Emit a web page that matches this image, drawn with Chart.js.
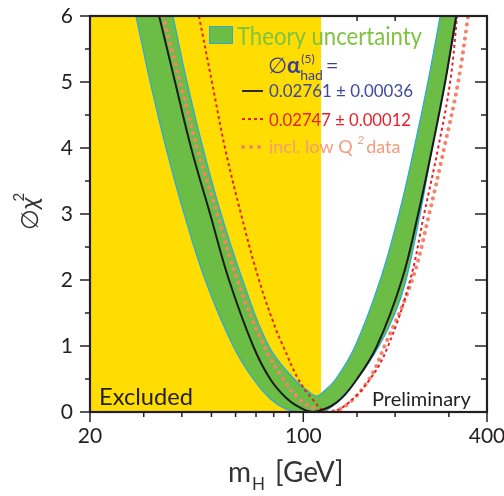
<!DOCTYPE html>
<html>
<head>
<meta charset="utf-8">
<script src="https://cdn.jsdelivr.net/npm/chart.js@4.4.1/dist/chart.umd.min.js"></script>
<style>
  html, body { margin: 0; padding: 0; background: #fff; }
  #wrap { width: 504px; height: 496px; }
</style>
</head>
<body>
<div id="wrap"><canvas id="chart" width="504" height="496"></canvas></div>
<script>
// Delta chi^2 of the electroweak fit as a function of the Higgs mass

// central fit, dalpha_had = 0.02761 +- 0.00036
const fitMass = [33.7, 38.0, 42.9, 49.5, 57.1, 68.5, 77.9, 88.5, 99.1, 108.5, 129.1, 150.1, 174.4, 210.4, 237.9, 264.5, 291.7, 317.0];
const fitChi2 = [6, 5, 4, 3, 2, 1, 0.5, 0.2, 0.05, 0, 0.15, 0.5, 1, 2, 3, 4, 5, 6];

// fit with dalpha_had = 0.02747 +- 0.00012
const altMass = [45.5, 50.2, 55.4, 62.5, 71.6, 81.5, 85.9, 96.2, 106.9, 119.7, 137.1, 165.6, 189.7, 224.0, 248.9, 276.7, 302.9, 319.4];
const altChi2 = [6, 5, 4, 3, 2, 1.24, 1, 0.5, 0.2, 0, 0.1, 0.5, 1, 2, 3, 4, 5, 6];

// fit including low Q^2 data
const lowQ2Mass = [34.7, 39.5, 44.9, 52.2, 60.7, 74.4, 85.9, 96.9, 108.5, 120.6, 138.2, 164.4, 184.7, 227.4, 258.5, 289.5, 321.8, 347.0];
const lowQ2Chi2 = [6, 5, 4, 3, 2, 1, 0.5, 0.2, 0.05, 0, 0.1, 0.5, 1, 2, 3, 4, 5, 6];

// theory uncertainty band: lower and upper envelope
const bandLowMass = [28.3, 31.5, 35.5, 40.7, 47.7, 58.9, 68.5, 77.9, 87.2, 97.6, 116.1, 132.0, 150.1, 177.2, 200.0, 217.3, 241.5, 264.5, 291.7, 319.4];
const bandLowChi2 = [6, 5, 4, 3, 2, 1, 0.5, 0.2, 0.05, 0, 0, 0.2, 0.5, 1, 1.5, 2, 3, 4, 5, 6];
const bandHighMass = [37.4, 41.6, 46.9, 53.8, 63.3, 77.1, 93.3, 104.8, 111.0, 115.9, 127.8, 147.9, 178.6, 205.7, 230.8, 256.0, 280.9];
const bandHighChi2 = [6, 5, 4, 3, 2, 1, 0.5, 0.3, 0.24, 0.3, 0.5, 1, 2, 3, 4, 5, 6];

const EXCLUDED_LIMIT = 114.4;
const X_TICK_LABELS = [20, 100, 400];

const FONT = "Lato, 'Open Sans', sans-serif";
const INK = '#231f20';
const BAND_GREEN = '#6cbd45';
const BAND_EDGE = '#29a9e0';

const toPoints = (xs, ys) => xs.map((x, i) => ({ x, y: ys[i] }));

function segment(ctx, x1, y1, x2, y2) {
  ctx.beginPath();
  ctx.moveTo(x1, y1);
  ctx.lineTo(x2, y2);
  ctx.stroke();
}

// writes consecutive [text, font] pieces, returns the end x
function drawPieces(ctx, x, y, pieces, color) {
  ctx.fillStyle = color;
  let cx = x;
  pieces.forEach(([text, font]) => {
    ctx.font = font;
    ctx.fillText(text, cx, y);
    cx += ctx.measureText(text).width;
  });
  return cx;
}

const decorations = {
  id: 'decorations',
  beforeDatasetsDraw(chart) {
    const { ctx, chartArea: a, scales: { x, y } } = chart;
    ctx.save();
    ctx.strokeStyle = INK;
    ctx.lineWidth = 1.5;
    // inward ticks on the top and right edges
    x.ticks.forEach(t => {
      const px = x.getPixelForValue(t.value);
      const len = X_TICK_LABELS.includes(t.value) ? 10 : 5;
      segment(ctx, px, a.top, px, a.top + len);
    });
    y.ticks.forEach(t => {
      const py = y.getPixelForValue(t.value);
      const len = Number.isInteger(t.value) ? 12 : 6;
      segment(ctx, a.right - len, py, a.right, py);
    });
    // excluded mass range
    const xl = x.getPixelForValue(EXCLUDED_LIMIT);
    ctx.fillStyle = '#ffdd00';
    ctx.fillRect(a.left, a.top, xl - a.left, a.bottom - a.top);

    // green band between the two envelope lines
    const low = chart.getDatasetMeta(3).dataset;
    const high = chart.getDatasetMeta(4).dataset;
    low.updateControlPoints(a, 'x');
    high.updateControlPoints(a, 'x');
    ctx.beginPath();
    ctx.rect(a.left, a.top, a.right - a.left, a.bottom - a.top);
    ctx.clip();
    ctx.beginPath();
    low.path(ctx);
    const hp = high.points;
    ctx.lineTo(hp[hp.length - 1].x, hp[hp.length - 1].y);
    high.pathSegment(ctx, high.segments[0], { move: false, reverse: true });
    ctx.closePath();
    ctx.fillStyle = BAND_GREEN;
    ctx.fill();
    ctx.restore();
  },
  afterDatasetsDraw(chart) {
    const { ctx, chartArea: a, scales: { x, y } } = chart;
    ctx.save();
    ctx.strokeStyle = INK;
    ctx.lineWidth = 1.5;
    // outward ticks on the bottom and left edges
    x.ticks.forEach(t => {
      const px = x.getPixelForValue(t.value);
      const len = X_TICK_LABELS.includes(t.value) ? 10 : 5;
      segment(ctx, px, a.bottom, px, a.bottom + len);
    });
    y.ticks.forEach(t => {
      const py = y.getPixelForValue(t.value);
      const len = Number.isInteger(t.value) ? 10 : 5;
      segment(ctx, a.left - len, py, a.left, py);
    });
    // frame
    ctx.lineWidth = 2.2;
    ctx.strokeRect(a.left, a.top, a.right - a.left, a.bottom - a.top);

    ctx.textBaseline = 'alphabetic';
    ctx.textAlign = 'left';

    // region labels
    ctx.fillStyle = INK;
    ctx.font = `24px ${FONT}`;
    ctx.fillText('Excluded', a.left + 9, a.bottom - 7, 94);
    ctx.font = `20px ${FONT}`;
    ctx.fillText('Preliminary', 372, a.bottom - 6, 101);

    // legend
    ctx.fillStyle = BAND_GREEN;
    ctx.fillRect(209, 26, 24, 18);
    ctx.strokeStyle = BAND_EDGE;
    ctx.lineWidth = 1;
    ctx.strokeRect(209.5, 26.5, 23, 17);
    ctx.fillStyle = '#80c342';
    ctx.font = `25px ${FONT}`;
    ctx.fillText('Theory uncertainty', 237, 45, 185);

    const navy = '#3b3f94';
    let cx = drawPieces(ctx, 268, 73, [['\u2205', `22px ${FONT}`], ['\u03b1', `bold 22px ${FONT}`]], navy);
    ctx.font = `12px ${FONT}`;
    ctx.fillText('(5)', cx + 1, 63);
    ctx.font = `14px ${FONT}`;
    ctx.fillText('had', cx, 80);
    cx += ctx.measureText('had').width + 3;
    ctx.font = `22px ${FONT}`;
    ctx.fillText('=', cx, 73);

    ctx.strokeStyle = '#2a2a3a';
    ctx.lineWidth = 2;
    segment(ctx, 242, 91, 263, 91);
    ctx.fillStyle = '#3d4a9c';
    ctx.font = `18px ${FONT}`;
    ctx.fillText('0.02761 \u00b1 0.00036', 269, 97, 144);

    ctx.strokeStyle = '#e8202a';
    ctx.setLineDash([3, 3]);
    segment(ctx, 242, 119, 264, 119);
    ctx.setLineDash([]);
    ctx.fillStyle = '#e8202a';
    ctx.fillText('0.02747 \u00b1 0.00012', 269, 126, 142);

    ctx.fillStyle = '#f4836b';
    [243, 251, 259].forEach(px => {
      ctx.beginPath();
      ctx.arc(px, 147, 2, 0, Math.PI * 2);
      ctx.fill();
    });
    cx = drawPieces(ctx, 269, 153, [['incl. low Q ', `18px ${FONT}`]], '#f59a7c');
    ctx.font = `italic 12px ${FONT}`;
    ctx.fillText('2', cx, 144);
    ctx.font = `18px ${FONT}`;
    ctx.fillText('data', cx + 9, 153);

    // axis titles
    cx = drawPieces(ctx, 228, 482, [['m', `28px ${FONT}`]], '#333');
    ctx.font = `17px ${FONT}`;
    ctx.fillText('H', cx + 1, 490);
    ctx.font = `28px ${FONT}`;
    ctx.fillText('[GeV]', cx + 24, 482);

    ctx.translate(38, 230);
    ctx.rotate(-Math.PI / 2);
    cx = drawPieces(ctx, 0, 0, [['\u2205', `24px ${FONT}`], ['\u03c7', `italic 26px ${FONT}`]], '#333');
    ctx.font = `15px ${FONT}`;
    ctx.fillText('2', cx - 4, -14);
    ctx.restore();
  }
};

const curve = {
  showLine: true,
  pointRadius: 0,
  tension: 0.4
};

new Chart(document.getElementById('chart'), {
  type: 'scatter',
  data: {
    datasets: [
      { ...curve, label: 'fit', data: toPoints(fitMass, fitChi2),
        borderColor: '#1a1a1a', borderWidth: 2, order: 1 },
      { ...curve, label: 'alt', data: toPoints(altMass, altChi2),
        borderColor: '#e8202a', borderWidth: 2, borderDash: [3, 3], order: 2 },
      { ...curve, label: 'lowQ2', data: toPoints(lowQ2Mass, lowQ2Chi2),
        borderColor: '#f4836b', borderWidth: 4, borderDash: [0.1, 7], borderCapStyle: 'round', order: 3 },
      { ...curve, label: 'bandLow', data: toPoints(bandLowMass, bandLowChi2),
        borderColor: BAND_EDGE, borderWidth: 1.2, order: 4 },
      { ...curve, label: 'bandHigh', data: toPoints(bandHighMass, bandHighChi2),
        borderColor: BAND_EDGE, borderWidth: 1.2, order: 5 }
    ]
  },
  options: {
    responsive: false,
    animation: false,
    events: [],
    layout: { padding: { top: 16, right: 17, left: 0, bottom: 0 } },
    plugins: {
      legend: { display: false },
      tooltip: { enabled: false }
    },
    scales: {
      x: {
        type: 'logarithmic',
        min: 20,
        max: 400,
        grid: { display: false, drawTicks: false },
        border: { display: false },
        ticks: {
          autoSkip: false,
          maxRotation: 0,
          padding: 12,
          color: INK,
          font: { family: FONT, size: 21 },
          callback: v => (X_TICK_LABELS.includes(v) ? String(v) : '')
        },
        afterFit(scale) {
          scale.height = 84;
          scale.paddingLeft = 0;
          scale.paddingRight = 0;
        }
      },
      y: {
        min: 0,
        max: 6,
        grid: { display: false, drawTicks: false },
        border: { display: false },
        ticks: {
          stepSize: 0.5,
          padding: 17,
          color: INK,
          font: { family: FONT, size: 21 },
          callback: v => (Number.isInteger(v) ? String(v) : '')
        },
        afterFit(scale) {
          scale.width = 90;
          scale.paddingTop = 0;
          scale.paddingBottom = 0;
        }
      }
    }
  },
  plugins: [decorations]
});
</script>
</body>
</html>
